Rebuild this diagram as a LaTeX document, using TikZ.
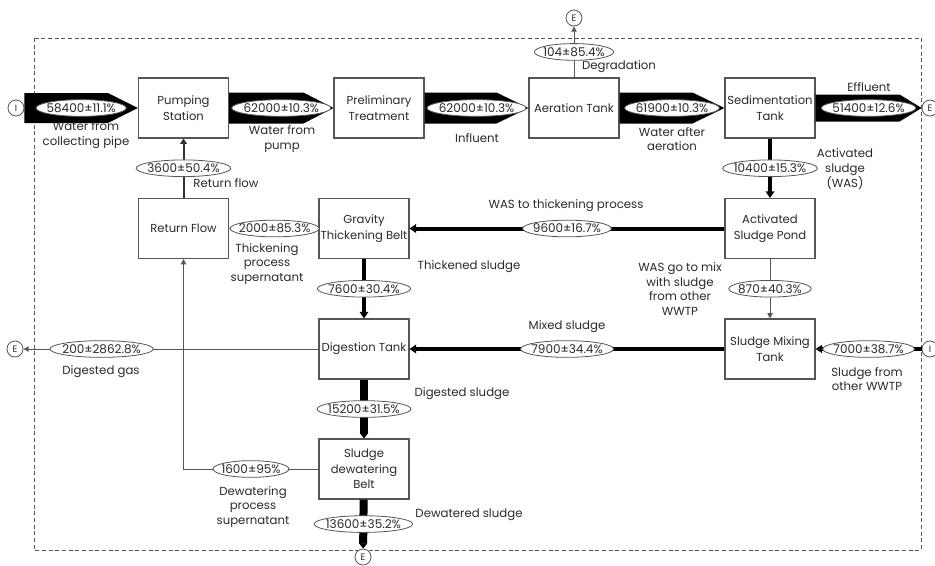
\documentclass[tikz,border=0pt]{standalone}
\usepackage{fontspec}
\setmainfont{Poppins}
\usetikzlibrary{shapes.geometric,arrows.meta,calc}
\definecolor{ink}{HTML}{2A2A2A}
\definecolor{edge}{HTML}{555555}

% wide black process arrow: start, tip, half height, tip length
\newcommand\fatflow[4]{%
  \fill[black] ($(#1)+(0,-#3)$) -- ($(#2)+(-#4,-#3)$) -- (#2)
    -- ($(#2)+(-#4,#3)$) -- ($(#1)+(0,#3)$) -- cycle;}

\begin{document}
\begin{tikzpicture}[x=0.75pt,y=-0.75pt,
  every node/.style={text=ink},
  unit/.style={draw=edge, line width=0.8pt, minimum width=67.5pt,
    minimum height=45pt, align=center, inner sep=1pt,
    font=\fontsize{8.7}{11.5}\selectfont},
  flow/.style={ellipse, draw=edge, fill=white, line width=0.6pt,
    inner xsep=-2pt, inner ysep=0pt, minimum height=12.5pt,
    font=\fontsize{9}{10}\selectfont},
  term/.style={circle, draw=edge, fill=white, line width=0.6pt,
    minimum size=12pt, inner sep=0pt, font=\fontsize{7}{8}\selectfont},
  note/.style={align=center, font=\fontsize{8.8}{11}\selectfont},
  thinflow/.style={draw=edge, line width=0.75pt,
    -{Triangle[length=4pt,width=4pt]}},
  retflow/.style={draw=black!80, line width=1.5pt,
    -{Triangle[length=4pt,width=5pt]}},
  midflow/.style={draw=black, line width=2.5pt,
    -{Triangle[length=5pt,width=6pt]}},
  thickflow/.style={draw=black, line width=3pt,
    -{Triangle[length=5pt,width=6.5pt]}},
  heavyflow/.style={draw=black, line width=6pt,
    -{Triangle[length=4pt,width=6pt]}},
]
\useasboundingbox (0,0) rectangle (935,565);

% system boundary
\draw[edge, line width=0.6pt, dash pattern=on 3pt off 2pt] (34,38) rectangle (921,550);

% process units
\node[unit] (ps)  at (183.5,108)   {Pumping\\Station};
\node[unit] (pt)  at (379,108)     {Preliminary\\Treatment};
\node[unit] (at)  at (574,108)     {Aeration Tank};
\node[unit] (st)  at (770,108)     {Sedimentation\\Tank};
\node[unit] (rf)  at (183.5,228.5) {Return Flow};
\node[unit] (gt)  at (364,228.5)   {Gravity\\Thickening Belt};
\node[unit] (asp) at (770,228.5)   {Activated\\Sludge Pond};
\node[unit] (dt)  at (364,349)     {Digestion Tank};
\node[unit] (smt) at (770,349)     {Sludge Mixing\\Tank};
\node[unit] (sdb) at (364,469)     {Sludge\\dewatering\\Belt};

% inputs and exits
\node[term] (i1) at (16,108)  {I};
\node[term] (e1) at (930,108) {E};
\node[term] (e2) at (574,18)  {E};
\node[term] (e3) at (15,349)  {E};
\node[term] (i2) at (930,349) {I};
\node[term] (e4) at (363,557) {E};

% main water line
\fatflow{i1.east}{ps.west}{15}{30}
\fatflow{ps.east}{pt.west}{15.5}{30}
\fatflow{pt.east}{at.west}{15.5}{32}
\fatflow{at.east}{st.west}{15.5}{32}
\fatflow{st.east}{e1.west}{13.5}{22}
\node[flow] (q1) at ($(i1.east)!0.5!(ps.west)$) {58400±11.1\%};
\node[flow] (q2) at ($(ps.east)!0.5!(pt.west)$) {62000±10.3\%};
\node[flow] (q3) at ($(pt.east)!0.5!(at.west)$) {62000±10.3\%};
\node[flow] (q4) at ($(at.east)!0.5!(st.west)$) {61900±10.3\%};
\node[flow] (q5) at ($(st.east)!0.5!(e1.west)$) {51400±12.6\%};

% side streams
\draw[thinflow]  (at)  -- node[flow] {104±85.4\%} (e2);
\draw[retflow]   (rf)  -- node[flow] {3600±50.4\%} (ps);
\draw[thinflow]  (gt)  -- node[flow, inner xsep=-3.2pt, pos=0.49] {2000±85.3\%} (rf);
\draw[thickflow] (asp) -- node[flow] {9600±16.7\%} (gt);
\draw[thickflow] (st)  -- node[flow] {10400±15.3\%} (asp);
\draw[thickflow] (gt)  -- node[flow] {7600±30.4\%} (dt);
\draw[thinflow]  (asp) -- node[flow] {870±40.3\%} (smt);
\draw[thickflow] (smt) -- node[flow] {7900±34.4\%} (dt);
\draw[midflow]   (i2)  -- node[flow] {7000±38.7\%} (smt);
\draw[thinflow]  (dt)  -- node[flow, pos=0.735] {200±2862.8\%} (e3);
\draw[thinflow]  (sdb.west) -- node[flow] {1600±95\%} (sdb.west -| rf.south) -- (rf.south);
\draw[heavyflow] (dt)  -- node[flow] {15200±31.5\%} (sdb);
\draw[heavyflow] (sdb) -- node[flow] {13600±35.2\%} (e4);

% stream labels
\node[note] at (86,135)   {Water from\\collecting pipe};
\node[note] at (282,139)  {Water from\\pump};
\node[note] at (477,138)  {Influent};
\node[note] at (672,139)  {Water after\\aeration};
\node[note] at (869,87)   {Effluent};
\node[note] at (619,67)   {Degradation};
\node[note] at (226,183)  {Return flow};
\node[note] at (845,169)  {Activated\\sludge\\(WAS)};
\node[note] at (566,206)  {WAS to thickening process};
\node[note] at (267,264)  {Thickening\\process\\supernatant};
\node[note] at (469,267)  {Thickened sludge};
\node[note] at (680,289)  {WAS go to mix\\with sludge\\from other\\WWTP};
\node[note] at (567,327)  {Mixed sludge};
\node[note] at (867,379)  {Sludge from\\other WWTP};
\node[note] at (101,372)  {Digested gas};
\node[note] at (462,394)  {Digested sludge};
\node[note] at (253,507)  {Dewatering\\process\\supernatant};
\node[note] at (469,515)  {Dewatered sludge};
\end{tikzpicture}
\end{document}
